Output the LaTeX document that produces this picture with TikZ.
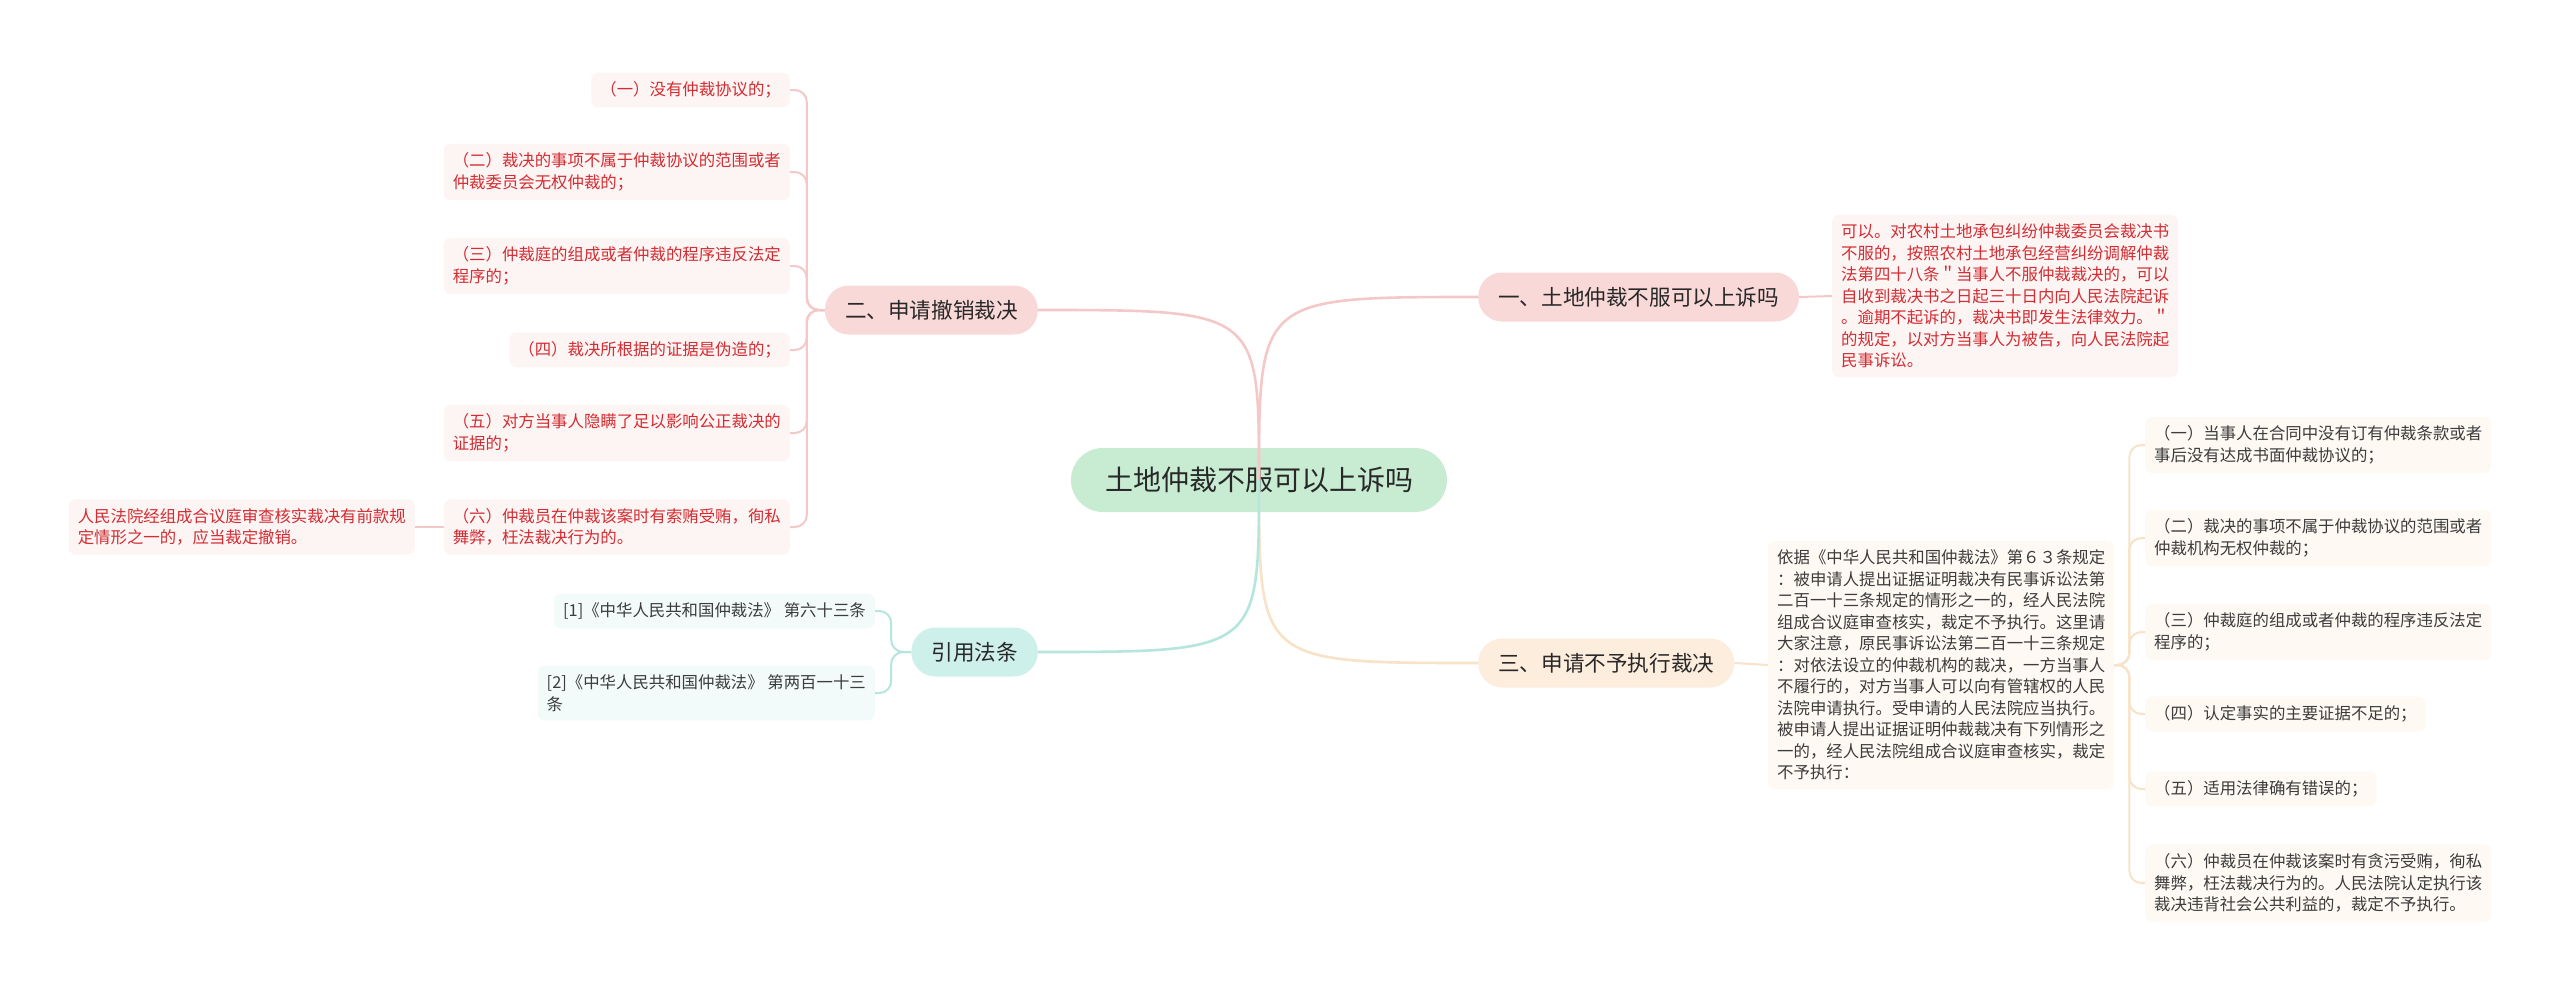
\documentclass[tikz,border=0pt]{standalone}
\usepackage{fontspec}
\setmainfont{Noto Sans CJK SC}
\definecolor{rootfill}{RGB}{200,236,210}
\definecolor{pinkfill}{RGB}{249,216,216}
\definecolor{peachfill}{RGB}{253,237,221}
\definecolor{tealfill}{RGB}{206,240,235}
\definecolor{pinkline}{RGB}{245,200,200}
\definecolor{peachline}{RGB}{248,226,200}
\definecolor{tealline}{RGB}{180,230,222}
\definecolor{redtext}{RGB}{210,45,50}
\definecolor{pinkleaf}{RGB}{253,244,244}
\definecolor{peachleaf}{RGB}{254,249,243}
\definecolor{tealleaf}{RGB}{242,251,250}
\definecolor{graytext}{RGB}{60,60,60}
\definecolor{darktext}{RGB}{40,40,40}
\tikzset{
  rootbox/.style={fill=rootfill, text=darktext, rounded corners=32pt, minimum height=64pt, inner xsep=34pt, inner ysep=0pt, font=\fontsize{28pt}{34pt}\selectfont},
  branchbox/.style={text=darktext, rounded corners=24pt, minimum height=49pt, inner xsep=20pt, inner ysep=0pt, font=\fontsize{21.6pt}{26pt}\selectfont},
  leafbox/.style={rounded corners=7pt, inner xsep=9pt, inner ysep=9pt, align=left, font=\fontsize{16.4pt}{21.5pt}\selectfont},
  redleaf/.style={leafbox, fill=pinkleaf, text=redtext},
  peachleafbox/.style={leafbox, fill=peachleaf, text=graytext},
  tealleafbox/.style={leafbox, fill=tealleaf, text=graytext},
  mainlink/.style={line width=2.6pt},
  leaflink/.style={line width=2pt, rounded corners=12pt},
}
\begin{document}
\begin{tikzpicture}[x=1pt,y=-1pt]
\useasboundingbox (0,0) rectangle (2560,993);
\fill[white] (0,0) rectangle (2560,993);

% root
\node[rootbox] (root) at (1259,480) {土地仲裁不服可以上诉吗};

% branches
\node[branchbox, fill=pinkfill, anchor=west] (b1) at (1478,297) {一、土地仲裁不服可以上诉吗};
\node[branchbox, fill=pinkfill, anchor=east] (b2) at (1038,310) {二、申请撤销裁决};
\node[branchbox, fill=peachfill, anchor=west] (b3) at (1478,663) {三、申请不予执行裁决};
\node[branchbox, fill=tealfill, anchor=east] (b4) at (1038,652) {引用法条};

% branch 1 leaf
\node[redleaf, anchor=west] (t1) at (1832,296) {可以。对农村土地承包纠纷仲裁委员会裁决书\\不服的，按照农村土地承包经营纠纷调解仲裁\\法第四十八条＂当事人不服仲裁裁决的，可以\\自收到裁决书之日起三十日内向人民法院起诉\\。逾期不起诉的，裁决书即发生法律效力。＂\\的规定，以对方当事人为被告，向人民法院起\\民事诉讼。};

% branch 2 leaves
\node[redleaf, anchor=east] (c1) at (790,90) {（一）没有仲裁协议的；};
\node[redleaf, anchor=east] (c2) at (790,172) {（二）裁决的事项不属于仲裁协议的范围或者\\仲裁委员会无权仲裁的；};
\node[redleaf, anchor=east] (c3) at (790,266) {（三）仲裁庭的组成或者仲裁的程序违反法定\\程序的；};
\node[redleaf, anchor=east] (c4) at (790,350) {（四）裁决所根据的证据是伪造的；};
\node[redleaf, anchor=east] (c5) at (790,433) {（五）对方当事人隐瞒了足以影响公正裁决的\\证据的；};
\node[redleaf, anchor=east] (c6) at (790,527) {（六）仲裁员在仲裁该案时有索贿受贿，徇私\\舞弊，枉法裁决行为的。};
\node[redleaf, anchor=east] (c6a) at (415,527) {人民法院经组成合议庭审查核实裁决有前款规\\定情形之一的，应当裁定撤销。};

% branch 3 leaves
\node[peachleafbox, anchor=west] (t3) at (1768,665) {依据《中华人民共和国仲裁法》第６３条规定\\：被申请人提出证据证明裁决有民事诉讼法第\\二百一十三条规定的情形之一的，经人民法院\\组成合议庭审查核实，裁定不予执行。这里请\\大家注意，原民事诉讼法第二百一十三条规定\\：对依法设立的仲裁机构的裁决，一方当事人\\不履行的，对方当事人可以向有管辖权的人民\\法院申请执行。受申请的人民法院应当执行。\\被申请人提出证据证明仲裁裁决有下列情形之\\一的，经人民法院组成合议庭审查核实，裁定\\不予执行：};
\node[peachleafbox, anchor=west] (d1) at (2145,445) {（一）当事人在合同中没有订有仲裁条款或者\\事后没有达成书面仲裁协议的；};
\node[peachleafbox, anchor=west] (d2) at (2145,538) {（二）裁决的事项不属于仲裁协议的范围或者\\仲裁机构无权仲裁的；};
\node[peachleafbox, anchor=west] (d3) at (2145,632) {（三）仲裁庭的组成或者仲裁的程序违反法定\\程序的；};
\node[peachleafbox, anchor=west] (d4) at (2145,714) {（四）认定事实的主要证据不足的；};
\node[peachleafbox, anchor=west] (d5) at (2145,789) {（五）适用法律确有错误的；};
\node[peachleafbox, anchor=west] (d6) at (2145,883) {（六）仲裁员在仲裁该案时有贪污受贿，徇私\\舞弊，枉法裁决行为的。人民法院认定执行该\\裁决违背社会公共利益的，裁定不予执行。};

% branch 4 leaves
\node[tealleafbox, anchor=east] (e1) at (875,611) {[1]《中华人民共和国仲裁法》 第六十三条};
\node[tealleafbox, anchor=east] (e2) at (875,693) {[2]《中华人民共和国仲裁法》 第两百一十三\\条};

% leaf links
\draw[pinkline, leaflink] (b1.east) -- (t1.west);
\foreach \c in {c1,c2,c3,c4,c5,c6}
  \draw[pinkline, leaflink] (b2.west) -- ++(-18,0) |- (\c.east);
\draw[pinkline, leaflink] (c6.west) -- (c6a.east);
\draw[peachline, leaflink] (b3.east) -- (t3.west);
\foreach \d in {d1,d2,d3,d4,d5,d6}
  \draw[peachline, leaflink] (t3.east) -- ++(15,0) |- (\d.west);
\foreach \e in {e1,e2}
  \draw[tealline, leaflink] (b4.west) -- ++(-20,0) |- (\e.east);

% main links
\draw[pinkline, mainlink] (root.center) .. controls (root.center |- b1.west) .. (b1.west);
\draw[pinkline, mainlink] (root.center) .. controls (root.center |- b2.east) .. (b2.east);
\draw[peachline, mainlink] (root.center) .. controls (root.center |- b3.west) .. (b3.west);
\draw[tealline, mainlink] (root.center) .. controls (root.center |- b4.east) .. (b4.east);
\end{tikzpicture}
\end{document}
